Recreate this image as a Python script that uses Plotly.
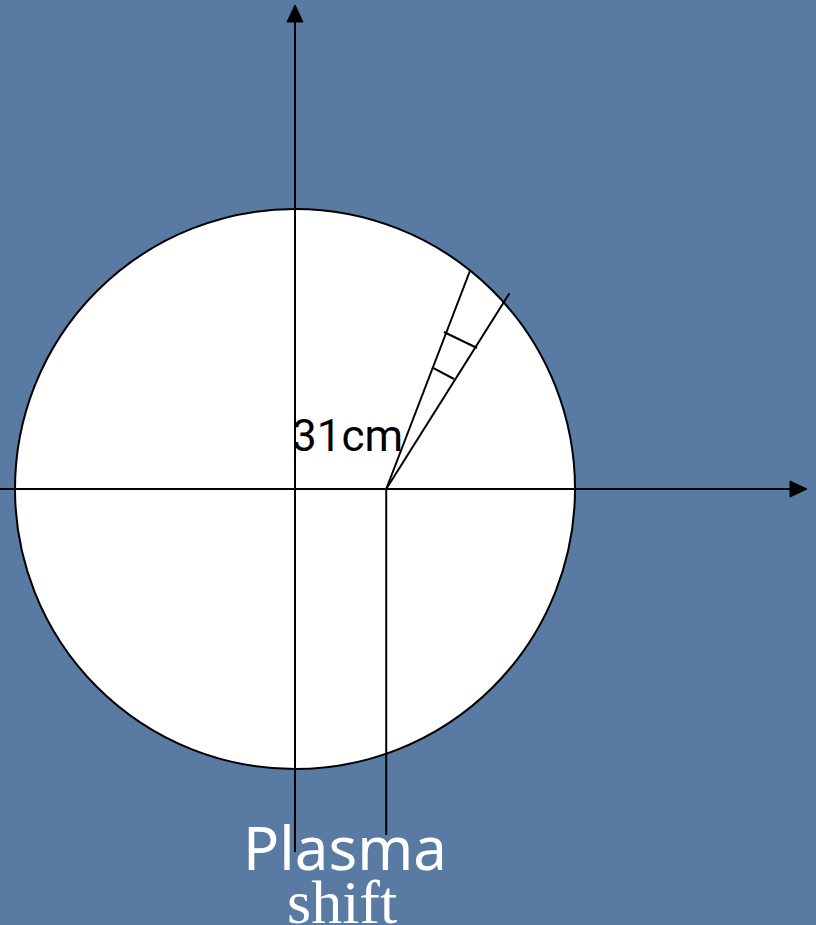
import numpy as np
import plotly.graph_objects as go

# ---- data (cm) ----
minor_radius = 31.0          # circle radius, labelled "31cm"
plasma_shift = 10.1          # shift of plasma centre along the horizontal axis
ray_angles_deg = [69.0, 57.8]   # chords from the shifted centre
ray_lengths = [25.97, 25.6]
tick_marks = [  # pairs of (x, y) end points in cm, relative to the circle centre
    [(16.49, 17.38), (20.15, 15.61)],
    [(15.28, 13.40), (17.60, 12.18)],
]
label_radius = "31cm"
label_shift = ["Plasma", "shift"]

# ---- geometry / scale ----
W, H = 816, 925
px_per_cm = 280 / minor_radius
cx_px, cy_px = 295, 489
x_range = [-cx_px / px_per_cm, (W - cx_px) / px_per_cm]
y_range = [-(H - cy_px) / px_per_cm, cy_px / px_per_cm]

BG = "#587aa3"
fig = go.Figure()

line_style = dict(color="black", width=2)

# circle
fig.add_shape(type="circle", xref="x", yref="y",
              x0=-minor_radius, y0=-minor_radius, x1=minor_radius, y1=minor_radius,
              fillcolor="white", line=dict(color="black", width=2), layer="below")

# axes
v_top = y_range[1] - 22 / px_per_cm
v_bot = -(852 - cy_px) / px_per_cm
h_left = x_range[0]
h_right = x_range[1] - 26 / px_per_cm
fig.add_trace(go.Scatter(x=[0, 0], y=[v_bot, v_top], mode="lines", line=line_style, hoverinfo="skip"))
fig.add_trace(go.Scatter(x=[h_left, h_right], y=[0, 0], mode="lines", line=line_style, hoverinfo="skip"))

# arrow heads (triangles)
ah_len = 17 / px_per_cm
ah_half = 8 / px_per_cm
fig.add_trace(go.Scatter(x=[-ah_half, ah_half, 0, -ah_half],
                         y=[v_top, v_top, v_top + ah_len, v_top],
                         mode="lines", fill="toself", fillcolor="black",
                         line=dict(color="black", width=1), hoverinfo="skip"))
fig.add_trace(go.Scatter(x=[h_right, h_right, h_right + ah_len, h_right],
                         y=[-ah_half, ah_half, 0, -ah_half],
                         mode="lines", fill="toself", fillcolor="black",
                         line=dict(color="black", width=1), hoverinfo="skip"))

# shifted vertical line
shift_bot = -(835 - cy_px) / px_per_cm
fig.add_trace(go.Scatter(x=[plasma_shift, plasma_shift], y=[0, shift_bot], mode="lines",
                         line=line_style, hoverinfo="skip"))

# rays
for ang, ln in zip(ray_angles_deg, ray_lengths):
    a = np.deg2rad(ang)
    fig.add_trace(go.Scatter(x=[plasma_shift, plasma_shift + ln * np.cos(a)],
                             y=[0, ln * np.sin(a)], mode="lines",
                             line=line_style, hoverinfo="skip"))

# tick marks
for (p, q) in tick_marks:
    fig.add_trace(go.Scatter(x=[p[0], q[0]], y=[p[1], q[1]], mode="lines",
                             line=line_style, hoverinfo="skip"))

# labels
fig.add_annotation(x=(347 - cx_px) / px_per_cm, y=(cy_px - 436) / px_per_cm,
                   text=label_radius, showarrow=False,
                   font=dict(family="Roboto", size=44, color="black"),
                   xanchor="center", yanchor="middle")
fig.add_annotation(x=(345 - cx_px) / px_per_cm, y=(cy_px - 847) / px_per_cm,
                   text=label_shift[0], showarrow=False,
                   font=dict(family="Noto Sans", size=60, color="white"),
                   xanchor="center", yanchor="middle")
fig.add_annotation(x=(342 - cx_px) / px_per_cm, y=(cy_px - 902) / px_per_cm,
                   text=label_shift[1], showarrow=False,
                   font=dict(family="Liberation Serif", size=62, color="white"),
                   xanchor="center", yanchor="middle")

fig.update_layout(
    width=W, height=H, margin=dict(l=0, r=0, t=0, b=0),
    paper_bgcolor=BG, plot_bgcolor=BG, showlegend=False,
    xaxis=dict(range=x_range, visible=False, fixedrange=True),
    yaxis=dict(range=y_range, visible=False, fixedrange=True),
)
fig.write_html("out.html", config={"displayModeBar": False},
               post_script="document.body.style.margin='0';document.body.style.background='" + BG + "';")
